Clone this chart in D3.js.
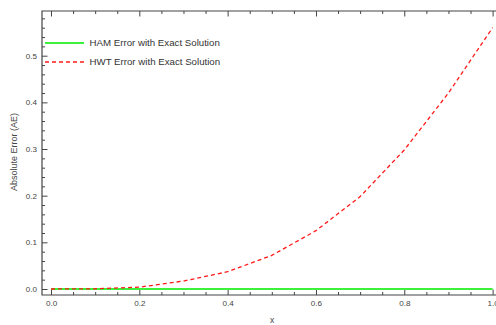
<!DOCTYPE html>
<html>
<head>
<meta charset="utf-8">
<script src="https://cdn.jsdelivr.net/npm/d3@7"></script>
<style>
  body { margin: 0; background: #fff; }
  svg { display: block; font-family: "Liberation Sans", Arial, sans-serif; }
  .axis text { fill: #444; font-size: 8.1px; }
  .axis line { stroke: #444; }
</style>
</head>
<body>
<div id="chart"></div>
<script>
var width = 496;
var height = 325;

// data
var xValues = [0, 0.1, 0.2, 0.3, 0.4, 0.5, 0.6, 0.7, 0.8, 0.9, 1.0];
var hamError = [0, 0, 0, 0, 0, 0, 0, 0, 0, 0, 0];
var hwtError = [0, 0.0005, 0.004, 0.017, 0.037, 0.072, 0.125, 0.198, 0.298, 0.42, 0.56];
var xTicks = [0, 0.2, 0.4, 0.6, 0.8, 1.0];
var yTicks = [0, 0.1, 0.2, 0.3, 0.4, 0.5];
var seriesNames = ["HAM Error with Exact Solution", "HWT Error with Exact Solution"];

var frame = {left: 42, top: 11, bottom: 295, right: 500};

var svg = d3.select("#chart")
  .append("svg")
  .attr("width", width)
  .attr("height", height);

var xScale = d3.scaleLinear()
  .domain([0, 1])
  .range([51, 492.6]);

var yScale = d3.scaleLinear()
  .domain([0, 0.5])
  .range([289, 55.7]);

var xMinor = d3.range(0, 1.0001, 0.05).filter(function(v) { return Math.abs(v * 5 - Math.round(v * 5)) > 1e-6; });
var yMinor = d3.range(0, 0.59, 0.02).filter(function(v) { return Math.abs(v * 10 - Math.round(v * 10)) > 1e-6; });

svg.append("defs").append("clipPath").attr("id", "clip")
  .append("rect")
    .attr("x", frame.left).attr("y", frame.top)
    .attr("width", frame.right - frame.left).attr("height", frame.bottom - frame.top);

// bottom axis
svg.append("g").attr("class", "axis")
  .attr("transform", `translate(0,${frame.bottom})`)
  .call(d3.axisBottom(xScale).tickValues(xTicks).tickFormat(d3.format(".1f"))
    .tickSizeInner(-5.5).tickSizeOuter(0).tickPadding(5))
  .call(function(g) { g.select(".domain").remove(); });
svg.append("g").attr("class", "axis")
  .attr("transform", `translate(0,${frame.bottom})`)
  .call(d3.axisBottom(xScale).tickValues(xMinor).tickFormat("")
    .tickSizeInner(-3).tickSizeOuter(0))
  .call(function(g) { g.select(".domain").remove(); });

// top axis
svg.append("g").attr("class", "axis")
  .attr("transform", `translate(0,${frame.top})`)
  .call(d3.axisTop(xScale).tickValues(xTicks).tickFormat("")
    .tickSizeInner(-5.5).tickSizeOuter(0))
  .call(function(g) { g.select(".domain").remove(); });
svg.append("g").attr("class", "axis")
  .attr("transform", `translate(0,${frame.top})`)
  .call(d3.axisTop(xScale).tickValues(xMinor).tickFormat("")
    .tickSizeInner(-3).tickSizeOuter(0))
  .call(function(g) { g.select(".domain").remove(); });

// left axis
svg.append("g").attr("class", "axis")
  .attr("transform", `translate(${frame.left},0)`)
  .call(d3.axisLeft(yScale).tickValues(yTicks).tickFormat(d3.format(".1f"))
    .tickSizeInner(-5.5).tickSizeOuter(0).tickPadding(5))
  .call(function(g) { g.select(".domain").remove(); });
svg.append("g").attr("class", "axis")
  .attr("transform", `translate(${frame.left},0)`)
  .call(d3.axisLeft(yScale).tickValues(yMinor).tickFormat("")
    .tickSizeInner(-3).tickSizeOuter(0))
  .call(function(g) { g.select(".domain").remove(); });

// frame lines
svg.append("path")
  .attr("d", `M${frame.right},${frame.top}H${frame.left}V${frame.bottom}H${frame.right}`)
  .attr("fill", "none")
  .attr("stroke", "#444")
  .attr("stroke-width", 1.2);

var line = d3.line()
  .x(function(d) { return xScale(d[0]); })
  .y(function(d) { return yScale(d[1]); });

var plot = svg.append("g").attr("clip-path", "url(#clip)");

plot.append("path")
  .datum(d3.zip(xValues, hamError))
  .attr("d", line)
  .attr("fill", "none")
  .attr("stroke", "#3cf03c")
  .attr("stroke-width", 2);

plot.append("path")
  .datum(d3.zip(xValues, hwtError))
  .attr("d", line)
  .attr("fill", "none")
  .attr("stroke", "#ff1a1a")
  .attr("stroke-width", 1.3)
  .attr("stroke-dasharray", "4,3");

// legend
var legend = svg.append("g");
var legendStyles = [
  {color: "#3cf03c", dash: null, w: 2},
  {color: "#ff1a1a", dash: "4,3", w: 1.3}
];
seriesNames.forEach(function(name, i) {
  var y = 43 + i * 19;
  legend.append("line")
    .attr("x1", 45).attr("x2", 84)
    .attr("y1", y).attr("y2", y)
    .attr("stroke", legendStyles[i].color)
    .attr("stroke-width", legendStyles[i].w)
    .attr("stroke-dasharray", legendStyles[i].dash);
  legend.append("text")
    .attr("x", 89.5)
    .attr("y", y + 3.4)
    .style("font-size", "9.7px")
    .attr("fill", "#333")
    .text(name);
});

// axis titles
svg.append("text")
  .attr("x", 272)
  .attr("y", 323)
  .attr("text-anchor", "middle")
  .style("font-size", "8.5px")
  .attr("fill", "#444")
  .text("x");

svg.append("text")
  .attr("transform", "translate(17,152) rotate(-90)")
  .attr("text-anchor", "middle")
  .style("font-size", "9px")
  .attr("fill", "#444")
  .text("Absolute Error (AE)");
</script>
</body>
</html>
